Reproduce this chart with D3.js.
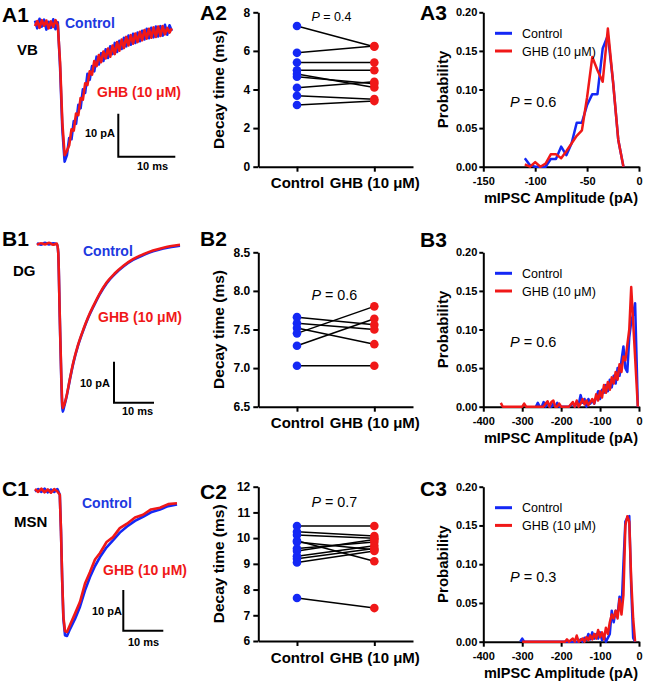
<!DOCTYPE html>
<html><head><meta charset="utf-8">
<script src="https://cdn.jsdelivr.net/npm/d3@7"></script>
<style>
body{margin:0;background:#fff}
svg{display:block;font-family:Arial,"Liberation Sans",Helvetica,sans-serif}
</style></head><body><svg id="fig" width="647" height="685"></svg>
<script>
// ---------------- DATA ----------------
const groups = ["Control", "GHB (10 μM)"];

// Decay times (ms), paired per cell
const vbDecayControl = [7.29, 5.9, 5.4, 5.0, 4.8, 4.66, 4.09, 3.68, 3.2];
const vbDecayGHB     = [6.22, 6.25, 5.4, 5.0, 4.1, 4.3, 4.4, 3.5, 3.4];
const dgDecayControl = [7.66, 7.58, 7.52, 7.45, 7.29, 7.03];
const dgDecayGHB     = [7.56, 7.50, 7.31, 7.80, 7.64, 7.03];
const msnDecayControl = [10.47, 10.25, 10.12, 9.9, 9.85, 9.6, 9.5, 9.3, 9.2, 9.05, 7.67];
const msnDecayGHB     = [10.47, 10.08, 10.0, 9.1, 9.55, 9.85, 9.95, 9.7, 9.6, 9.5, 7.28];

const vbDecayTicks = [0, 2, 4, 6, 8];
const dgDecayTicks = [6.5, 7.0, 7.5, 8.0, 8.5];
const msnDecayTicks = [6, 7, 8, 9, 10, 11, 12];

const decayP = ["0.4", "0.6", "0.7"];
const ampP = ["0.6", "0.6", "0.3"];

// Amplitude distributions [pA, probability]
const vbAmpControl = [[-110,0.011],[-105,0.002],[-100,0],[-95,0],[-90,0],[-85,0.01],[-80,0.01],[-75,0.026],[-70,0.015],[-65,0.03],[-60,0.057],[-55,0.057],[-50,0.08],[-45,0.094],[-40,0.094],[-35,0.153],[-30,0.17],[-25,0.11],[-20,0.035],[-15,0]];
const vbAmpGHB = [[-110,0.003],[-105,0],[-100,0.006],[-95,0],[-90,0.004],[-85,0.016],[-80,0.016],[-75,0.011],[-70,0.02],[-65,0.03],[-60,0.04],[-55,0.047],[-50,0.09],[-45,0.142],[-40,0.125],[-35,0.11],[-30,0.179],[-25,0.11],[-20,0.035],[-15,0]];
const dgAmpControl = [[-265,0],[-260,0.005],[-255,0],[-250,0],[-245,0.006],[-240,0],[-235,0.006],[-230,0],[-225,0],[-220,0.004],[-215,0],[-210,0.005],[-205,0],[-200,0],[-190,0],[-180,0],[-170,0.004],[-165,0],[-160,0.006],[-155,0.003],[-150,0.015],[-145,0.005],[-140,0.01],[-135,0],[-130,0.01],[-125,0.004],[-120,0.008],[-115,0.004],[-110,0.012],[-105,0.02],[-100,0.01],[-95,0.022],[-90,0.018],[-85,0.028],[-80,0.02],[-75,0.035],[-70,0.025],[-65,0.04],[-60,0.03],[-55,0.05],[-50,0.04],[-45,0.06],[-40,0.078],[-35,0.05],[-30,0.045],[-25,0.09],[-20,0.11],[-15,0.12],[-10,0.134],[-3,0]];
const dgAmpGHB = [[-355,0.005],[-350,0],[-300,0],[-295,0.004],[-290,0],[-245,0],[-240,0.004],[-235,0.007],[-230,0],[-225,0.006],[-220,0.008],[-215,0],[-210,0],[-205,0.004],[-200,0],[-180,0],[-175,0.003],[-170,0.006],[-165,0],[-160,0.008],[-155,0],[-150,0.004],[-145,0.01],[-140,0.003],[-135,0.008],[-130,0.002],[-125,0.006],[-120,0.01],[-115,0.004],[-110,0.016],[-105,0.008],[-100,0.02],[-95,0.012],[-90,0.028],[-85,0.018],[-80,0.032],[-75,0.022],[-70,0.038],[-65,0.03],[-60,0.045],[-55,0.035],[-50,0.055],[-45,0.045],[-40,0.065],[-35,0.06],[-30,0.08],[-25,0.1],[-20,0.155],[-3,0]];
const msnAmpControl = [[-305,0],[-300,0.004],[-295,0],[-160,0],[-155,0],[-150,0.003],[-145,0],[-140,0.005],[-135,0.002],[-130,0.01],[-125,0.003],[-120,0.012],[-115,0.004],[-110,0.01],[-105,0.004],[-100,0.012],[-95,0.002],[-90,0.008],[-85,0],[-80,0.005],[-75,0.01],[-70,0.04],[-65,0.025],[-60,0.04],[-55,0.035],[-50,0.058],[-45,0.04],[-40,0.1],[-35,0.155],[-30,0.16],[-25,0.162],[-20,0.07],[-15,0.005],[-10,0]];
const msnAmpGHB = [[-300,0],[-190,0],[-185,0.003],[-180,0],[-170,0.004],[-165,0],[-160,0.008],[-155,0],[-150,0.002],[-145,0.004],[-140,0],[-135,0.006],[-130,0.002],[-125,0.008],[-120,0.003],[-115,0.01],[-110,0.004],[-105,0.015],[-100,0.006],[-95,0.012],[-90,0.003],[-85,0.018],[-80,0.01],[-75,0.025],[-70,0.035],[-65,0.03],[-60,0.04],[-55,0.03],[-50,0.055],[-45,0.035],[-40,0.06],[-35,0.15],[-30,0.162],[-25,0.155],[-20,0.08],[-15,0.03],[-10,0]];

const probTicks = [0, 0.05, 0.10, 0.15, 0.20];
const vbAmpTicks = [-150, -100, -50, 0];
const wideAmpTicks = [-400, -300, -200, -100, 0];

// Example mIPSC traces: time (ms) and current (pA)
const vbTime = [0,0.4,0.8,1.2,1.6,2.0,2.4,2.8,3.2,3.6,4.0,4.4,4.8,5.2,5.6,6.0,6.4,6.8,7.2,7.6,8.0,8.4,8.8,9.2,9.6,10.0,10.4,10.8,11.2,11.6,12.0,12.4,12.8,13.2,13.6,14.0,14.4,14.8,15.2,15.6,16.0,16.4,16.8,17.2,17.6,18.0,18.4,18.8,19.2,19.6,20.0,20.4,20.8,21.2,21.6,22.0,22.4,22.8,23.2,23.6,24.0];
const vbTraceControl = [0.8,-1.0,1.2,-0.6,1.0,-1.3,0.5,-0.9,1.1,-1.2,0.4,-10,-24.5,-32,-30.5,-26.5,-26.8,-22.6,-23.2,-18.8,-19.6,-15.2,-16.0,-11.6,-13.0,-9.8,-11.0,-7.6,-9.4,-6.8,-8.6,-5.9,-7.9,-5.2,-7.0,-4.4,-6.5,-3.9,-5.8,-3.2,-5.2,-2.7,-4.8,-2.3,-4.4,-2.0,-4.0,-1.6,-3.6,-1.1,-3.3,-0.9,-3.1,-0.6,-2.9,-0.5,-2.7,-0.2,-2.5,-0.3,-1.6];
const vbTraceGHB = [-0.5,0.7,-0.9,0.9,-0.4,0.8,-1.0,0.6,-0.7,0.9,-0.3,-9,-23,-30.5,-29.5,-28.2,-24.5,-24.8,-20.8,-21.2,-17.2,-17.6,-13.8,-14.2,-11.0,-11.8,-8.6,-9.8,-7.2,-8.9,-6.4,-8.0,-5.7,-7.6,-5.0,-7.0,-4.2,-6.2,-3.6,-5.6,-3.0,-5.0,-2.6,-4.6,-2.2,-4.2,-1.8,-3.8,-1.4,-3.4,-1.1,-3.2,-0.8,-3.0,-0.6,-2.8,-0.5,-2.4,-0.9,-2.0,-1.0];
const dgTime = [0,1,2,3,4,5,5.3,5.7,6.1,6.4,6.8,7.4,8.2,9.1,10.2,11.6,12.8,14.1,15.6,17.4,19.4,21.6,24,26.6,29,31.6,33.6,35.75];
const dgTraceControl = [0.2,-0.2,0.3,-0.1,0.2,-0.1,-2,-18,-34,-40.9,-39.6,-37.2,-33.2,-29,-25,-21,-18,-15.3,-12.4,-9.6,-7.4,-5.5,-3.9,-2.7,-1.8,-1.1,-0.7,-0.4];
const dgTraceGHB = [-0.2,0.2,-0.1,0.3,-0.2,0.1,-2,-18,-33,-40,-39.2,-37,-33,-28.8,-24.8,-20.8,-17.8,-15.1,-12.2,-9.4,-7.2,-5.3,-3.7,-2.5,-1.6,-0.9,-0.5,-0.2];
const msnTime = [0,0.8,1.6,2.4,3.2,4.0,4.8,5.6,6.2,6.5,6.8,7.1,7.5,8.0,8.75,10,11.25,12.5,13.75,15,16.25,17.9,19.5,21.2,23,25,27,29,31.25,33.3,35.5];
const msnTraceControl = [-0.2,0.4,-0.3,0.5,-0.4,0.3,-0.3,0.4,-1,-10,-22,-31.5,-35.5,-35.7,-34,-31.5,-28.5,-24.5,-21.2,-18.5,-16.3,-13.9,-12.2,-10.3,-8.8,-7.4,-6.4,-5.3,-4.6,-3.8,-3.4];
const msnTraceGHB = [0.4,-0.3,0.5,-0.4,0.3,-0.5,0.4,-0.2,-1,-10,-22,-31,-34.5,-34.7,-33,-30.2,-27.3,-22.8,-20.0,-16.9,-15.3,-12.6,-11.4,-9.2,-8.1,-6.6,-5.9,-4.6,-4.2,-3.3,-3.1];

// ---------------- DRAWING ----------------
const BLUE = "#1428f5", RED = "#f01818", BLUE_TXT = "#2038e0";
const svg = d3.select("#fig");

function label(x, y, text, size, opts = {}) {
  return svg.append("text").attr("x", x).attr("y", y)
    .attr("font-size", size).attr("font-weight", opts.weight || "bold")
    .attr("fill", opts.fill || "#000").attr("text-anchor", opts.anchor || "start")
    .text(text);
}
function pLabel(x, y, val, size) {
  const t = svg.append("text").attr("x", x).attr("y", y).attr("font-size", size).attr("fill", "#000");
  t.append("tspan").attr("font-style", "italic").text("P");
  t.append("tspan").text(" = " + val);
}
function styleAxis(g, fs) {
  g.select(".domain").attr("stroke", "#000").attr("stroke-width", 2);
  g.selectAll(".tick line").attr("stroke", "#000").attr("stroke-width", 2);
  g.selectAll(".tick text").attr("font-size", fs).attr("font-weight", "bold").attr("fill", "#000")
    .attr("font-family", "Arial, 'Liberation Sans', sans-serif");
}

function pairedPanel(cfg) {
  const y = d3.scaleLinear().domain(cfg.domain).range([cfg.bottom, cfg.top]);
  const x = d3.scalePoint().domain(groups).range([258.3, 413]).padding(0.5);
  const ga = svg.append("g").attr("transform", `translate(258.3,0)`)
    .call(d3.axisLeft(y).tickValues(cfg.ticks).tickSize(5).tickSizeOuter(0).tickPadding(3)
      .tickFormat(cfg.fmt));
  styleAxis(ga, 12);
  const gb = svg.append("g").attr("transform", `translate(0,${cfg.bottom})`)
    .call(d3.axisBottom(x).tickSize(5).tickSizeOuter(0).tickPadding(6));
  styleAxis(gb, 15);
  svg.append("text").attr("transform", `translate(224,${(cfg.top + cfg.bottom) / 2}) rotate(-90)`)
    .attr("text-anchor", "middle").attr("font-size", 15.5).attr("font-weight", "bold").text("Decay time (ms)");
  const pairs = cfg.ctrl.map((c, i) => [c, cfg.ghb[i]]);
  svg.append("g").selectAll("line").data(pairs).join("line")
    .attr("x1", x(groups[0])).attr("x2", x(groups[1]))
    .attr("y1", d => y(d[0])).attr("y2", d => y(d[1]))
    .attr("stroke", "#000").attr("stroke-width", 1.5);
  svg.append("g").selectAll("circle").data(cfg.ctrl).join("circle")
    .attr("cx", x(groups[0])).attr("cy", d => y(d)).attr("r", 4.3).attr("fill", BLUE);
  svg.append("g").selectAll("circle").data(cfg.ghb).join("circle")
    .attr("cx", x(groups[1])).attr("cy", d => y(d)).attr("r", 4.3).attr("fill", RED);
  pLabel(311.5, cfg.pY, cfg.p, cfg.pSize);
}

function histPanel(cfg) {
  const y = d3.scaleLinear().domain([0, 0.2]).range([cfg.bottom, cfg.top]);
  const x = d3.scaleLinear().domain(cfg.xDomain).range([483.3, 639]);
  const ga = svg.append("g").attr("transform", `translate(483.3,0)`)
    .call(d3.axisLeft(y).tickValues(probTicks).tickSize(4).tickSizeOuter(0).tickPadding(2)
      .tickFormat(d3.format(".2f")));
  styleAxis(ga, 11);
  const gb = svg.append("g").attr("transform", `translate(0,${cfg.bottom})`)
    .call(d3.axisBottom(x).tickValues(cfg.xTicks).tickSize(5).tickSizeOuter(0).tickPadding(6)
      .tickFormat(d => String(d)));
  styleAxis(gb, 11);
  svg.append("text").attr("transform", `translate(448,${(cfg.top + cfg.bottom) / 2}) rotate(-90)`)
    .attr("text-anchor", "middle").attr("font-size", 15).attr("font-weight", "bold").text("Probability");
  svg.append("text").attr("x", 561).attr("y", cfg.bottom + 36.5).attr("text-anchor", "middle")
    .attr("font-size", 14.5).attr("font-weight", "bold").text("mIPSC Amplitude (pA)");
  const line = d3.line().x(d => x(d[0])).y(d => y(d[1]));
  svg.append("path").datum(cfg.ctrl).attr("d", line).attr("fill", "none")
    .attr("stroke", BLUE).attr("stroke-width", 2.5).attr("stroke-linejoin", "round");
  svg.append("path").datum(cfg.ghb).attr("d", line).attr("fill", "none")
    .attr("stroke", RED).attr("stroke-width", 2.5).attr("stroke-linejoin", "round");
  const ly = cfg.top + 21;
  [[BLUE, groups[0]], [RED, groups[1]]].forEach((d, i) => {
    svg.append("line").attr("x1", 495).attr("x2", 512).attr("y1", ly + i * 17.7).attr("y2", ly + i * 17.7)
      .attr("stroke", d[0]).attr("stroke-width", 3);
    svg.append("text").attr("x", 522).attr("y", ly + i * 17.7 + 4.5).attr("font-size", 12.5).text(d[1]);
  });
  pLabel(510, cfg.top + 95, cfg.p, 14.5);
}

function tracePanel(cfg) {
  const x = d3.scaleLinear().domain([0, 10]).range([cfg.x0, cfg.x0 + cfg.pxMs]);
  const y = d3.scaleLinear().domain([0, -10]).range([cfg.y0, cfg.y0 + cfg.pxPa]);
  const line = d3.line().x((d, i) => x(cfg.t[i])).y(d => y(d)).curve(cfg.curve);
  svg.append("path").datum(cfg.ctrl).attr("d", line).attr("fill", "none")
    .attr("stroke", BLUE).attr("stroke-width", 2.6).attr("stroke-linejoin", "round");
  svg.append("path").datum(cfg.ghb).attr("d", line).attr("fill", "none")
    .attr("stroke", RED).attr("stroke-width", 2.6).attr("stroke-linejoin", "round");
  const bx = cfg.bar[0], by = cfg.bar[1];
  const vlen = y(-10) - y(0), hlen = x(10) - x(0);
  svg.append("path").attr("d", `M${bx},${by - vlen}V${by}H${bx + hlen}`)
    .attr("fill", "none").attr("stroke", "#000").attr("stroke-width", 2);
}

// ---- Row A (VB)
tracePanel({t: vbTime, ctrl: vbTraceControl, ghb: vbTraceGHB, x0: 35, pxMs: 57, y0: 24, pxPa: 43,
  curve: d3.curveLinear, bar: [118.3, 156.7]});
label(2, 22, "A1", 21); label(17, 55, "VB", 15);
label(65, 28, "Control", 14, {fill: BLUE_TXT}); label(97, 97, "GHB (10 μM)", 14, {fill: RED});
label(85, 137, "10 pA", 11); label(137, 170, "10 ms", 11);

label(200, 20, "A2", 21);
pairedPanel({domain: [0, 8], ticks: vbDecayTicks, fmt: d3.format("d"), top: 12.3, bottom: 166.7,
  ctrl: vbDecayControl, ghb: vbDecayGHB, p: decayP[0], pY: 20.5, pSize: 12.5});
label(420, 20, "A3", 21);
histPanel({top: 12.3, bottom: 166.7, xDomain: [-150, 0], xTicks: vbAmpTicks, ctrl: vbAmpControl, ghb: vbAmpGHB, p: ampP[0]});

// ---- Row B (DG)
tracePanel({t: dgTime, ctrl: dgTraceControl, ghb: dgTraceGHB, x0: 37, pxMs: 40, y0: 244, pxPa: 41,
  curve: d3.curveMonotoneX, bar: [114, 402.7]});
label(2, 246, "B1", 21); label(13, 276, "DG", 15);
label(83, 256, "Control", 14, {fill: BLUE_TXT}); label(98, 322, "GHB (10 μM)", 14, {fill: RED});
label(80, 387, "10 pA", 11); label(122, 414.5, "10 ms", 11);

label(200, 246, "B2", 21);
pairedPanel({domain: [6.5, 8.5], ticks: dgDecayTicks, fmt: d3.format(".1f"), top: 252.3, bottom: 406.7,
  ctrl: dgDecayControl, ghb: dgDecayGHB, p: decayP[1], pY: 300, pSize: 14.3});
label(420, 246.5, "B3", 21);
histPanel({top: 252.3, bottom: 406.7, xDomain: [-400, 0], xTicks: wideAmpTicks, ctrl: dgAmpControl, ghb: dgAmpGHB, p: ampP[1]});

// ---- Row C (MSN)
tracePanel({t: msnTime, ctrl: msnTraceControl, ghb: msnTraceGHB, x0: 35, pxMs: 40, y0: 490.7, pxPa: 40.7,
  curve: d3.curveLinear, bar: [123.3, 630.7]});
label(2, 496, "C1", 21); label(14, 527, "MSN", 15);
label(82, 508, "Control", 14, {fill: BLUE_TXT}); label(103, 575, "GHB (10 μM)", 14, {fill: RED});
label(92, 615, "10 pA", 11); label(128, 646, "10 ms", 11);

label(200, 499, "C2", 21);
pairedPanel({domain: [6, 12], ticks: msnDecayTicks, fmt: d3.format("d"), top: 486.7, bottom: 641,
  ctrl: msnDecayControl, ghb: msnDecayGHB, p: decayP[2], pY: 506.5, pSize: 14.3});
label(420, 496, "C3", 21);
histPanel({top: 486.7, bottom: 641.7, xDomain: [-400, 0], xTicks: wideAmpTicks, ctrl: msnAmpControl, ghb: msnAmpGHB, p: ampP[2]});
</script></body></html>
